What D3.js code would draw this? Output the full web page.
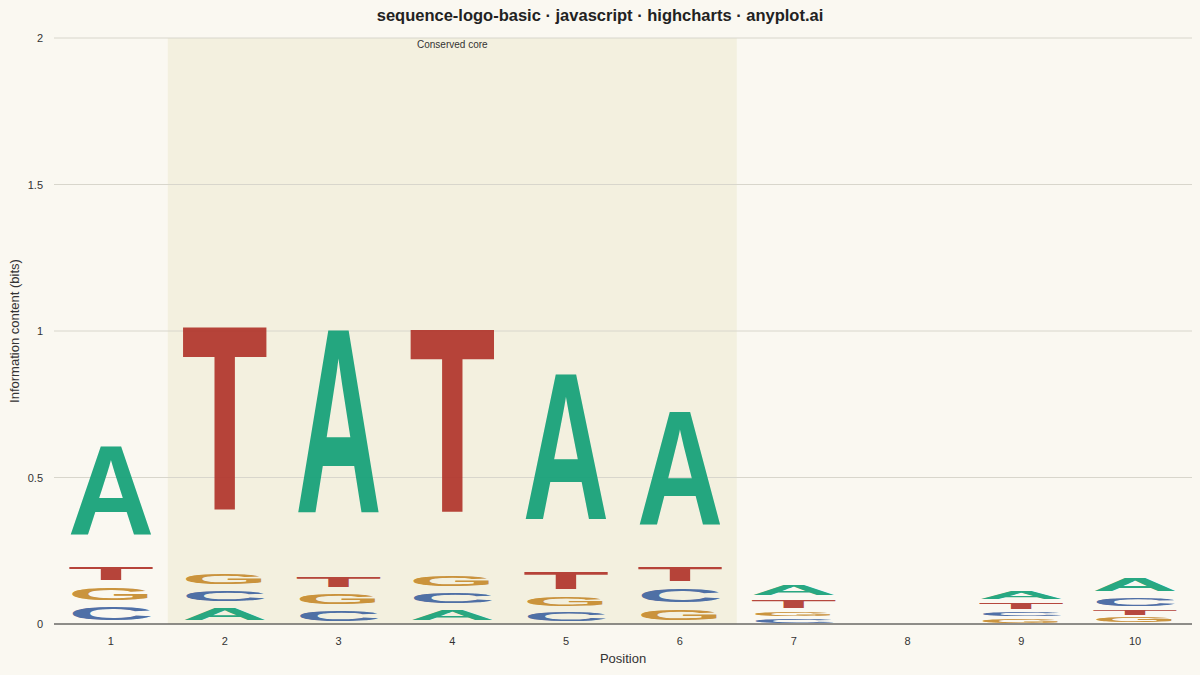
<!DOCTYPE html>
<html><head><meta charset="utf-8">
<script src="https://cdn.jsdelivr.net/npm/d3@7/dist/d3.min.js"></script>
<style>body{margin:0;background:#faf8f1;}svg{display:block;font-family:"Liberation Sans",Arial,sans-serif;}</style>
</head><body><svg id="c" width="1200" height="675"></svg>
<script>
const positions = [1,2,3,4,5,6,7,8,9,10];
// stacks bottom-to-top: [letter, bits]
const stack1 = [["C",0.07],["G",0.065],["T",0.07],["A",0.50]];
const stack2 = [["A",0.065],["C",0.06],["G",0.06],["T",1.03]];
const stack3 = [["C",0.055],["G",0.06],["T",0.06],["A",1.03]];
const stack4 = [["A",0.06],["C",0.057],["G",0.06],["T",1.03]];
const stack5 = [["C",0.05],["G",0.05],["T",0.095],["A",0.82]];
const stack6 = [["G",0.06],["C",0.07],["T",0.08],["A",0.64]];
const stack7 = [["C",0.022],["G",0.022],["T",0.045],["A",0.057]];
const stack8 = [];
const stack9 = [["G",0.022],["C",0.022],["T",0.034],["A",0.04]];
const stack10 = [["G",0.027],["T",0.027],["C",0.045],["A",0.074]];
const stacks = [stack1,stack2,stack3,stack4,stack5,stack6,stack7,stack8,stack9,stack10];
const yTicks = [0,0.5,1,1.5,2];
const colors = {A:"#13a077",T:"#b0362c",G:"#c68a2c",C:"#3f63a0"};
const core = [2,6];

const svg = d3.select("#c");
const m = {l:54,r:1192,t:38,b:624};
const x = d3.scaleBand().domain(positions).range([m.l,m.r]);
const y = d3.scaleLinear().domain([0,2]).range([m.b,m.t]);

svg.append("rect").attr("width",1200).attr("height",675).attr("fill","#faf8f1");
svg.append("rect").attr("x",x(core[0])).attr("y",m.t).attr("width",x(core[1])+x.bandwidth()-x(core[0]))
  .attr("height",m.b-m.t).attr("fill","#f3f0df");
svg.append("text").attr("x",(x(core[0])+x(core[1])+x.bandwidth())/2).attr("y",48).attr("text-anchor","middle")
  .attr("font-size",10).attr("fill","#333").text("Conserved core");

svg.selectAll(".grid").data(yTicks).join("line").attr("x1",m.l).attr("x2",m.r)
  .attr("y1",d=>y(d)).attr("y2",d=>y(d)).attr("stroke","#d8d6cc").attr("stroke-width",1);
svg.selectAll(".yl").data(yTicks).join("text").attr("x",43).attr("y",d=>y(d)+4).attr("text-anchor","end")
  .attr("font-size",11).attr("fill","#333").text(d=>d);
svg.append("line").attr("x1",m.l).attr("x2",m.r).attr("y1",m.b).attr("y2",m.b).attr("stroke","#333");
svg.selectAll(".xl").data(positions).join("text").attr("x",d=>x(d)+x.bandwidth()/2).attr("y",645)
  .attr("text-anchor","middle").attr("font-size",11).attr("fill","#333").text(d=>d);
svg.append("text").attr("x",(m.l+m.r)/2).attr("y",663).attr("text-anchor","middle").attr("font-size",13).attr("fill","#333").text("Position");
svg.append("text").attr("transform","translate(19,"+((m.t+m.b)/2)+") rotate(-90)").attr("text-anchor","middle")
  .attr("font-size",13).attr("fill","#333").text("Information content (bits)");
svg.append("text").attr("x",600).attr("y",21).attr("text-anchor","middle").attr("font-size",16.5).attr("font-weight","bold")
  .attr("fill","#222").text("sequence-logo-basic · javascript · highcharts · anyplot.ai");

const capH = 68.5;
stacks.forEach((st,i)=>{
  let base = 0;
  const cx = x(positions[i]) + x.bandwidth()/2;
  st.forEach(([L,v])=>{
    const y0 = y(base), y1 = y(base+v);
    const h = (y0-y1)*0.6, mid = (y0+y1)/2;
    const w = x.bandwidth()*0.76;
    const t = svg.append("text").attr("font-size",100).attr("font-weight","bold").attr("fill",colors[L])
      .attr("fill-opacity",0.93).text(L);
    const adv = t.node().getComputedTextLength();
    const sx = w/adv, sy = h/capH;
    t.attr("transform",`translate(${cx - w/2},${mid + h/2}) scale(${sx},${sy})`);
    base += v;
  });
});
</script></body></html>
